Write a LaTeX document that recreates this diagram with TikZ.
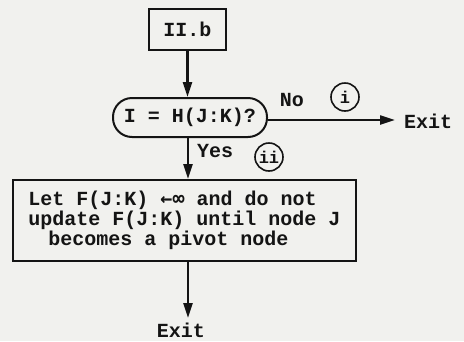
\documentclass[tikz,border=0pt]{standalone}
\usepackage{fontspec}
\setmonofont{Liberation Mono}
\newfontfamily\symfont{DejaVu Sans Mono}
\usetikzlibrary{arrows.meta}
\definecolor{paper}{RGB}{241,241,238}
\definecolor{ink}{RGB}{20,20,20}
\tikzset{
  every node/.style={font=\ttfamily\bfseries\fontsize{20}{20}\selectfont, text=ink},
  boxnode/.style={draw=ink, line width=2pt, inner sep=0pt},
  flow/.style={draw=ink, line width=2.2pt, -{Triangle[length=15pt,width=9pt]}},
  tag/.style={draw=ink, line width=1.6pt, circle, minimum size=28pt, inner sep=0pt,
    font=\ttfamily\bfseries\fontsize{17}{17}\selectfont},
  plain/.style={inner sep=0pt, anchor=west}
}
\begin{document}
\begin{tikzpicture}[x=1pt,y=-1pt]
\fill[paper] (0,0) rectangle (464,341);
\useasboundingbox (0,0) rectangle (464,341);

\node[boxnode, minimum width=77pt, minimum height=41pt] (iib) at (187.5,29.5) {II.b};
\node[boxnode, rounded corners=19pt, minimum width=154pt, minimum height=39pt] (cond) at (190,117.5) {I = H(J:K)?};
\node[boxnode, minimum width=343pt, minimum height=81pt, align=left] (act) at (184.5,220.5)
  {Let F(J:K) {\symfont ←∞} and do not\\update F(J:K) until node J\\\hspace*{20pt}becomes a pivot node};

\coordinate (exitR) at (395,120);
\coordinate (exitB) at (188,318);
\node[plain] (exitRtext) at (404,121) {Exit};
\node[inner sep=0pt] (exitBtext) at (181,330) {Exit};

\node (no) at (292,100) {No};
\node[tag] (ti) at (345,97) {i};
\node[plain] (yes) at (197,151) {Yes};
\node[tag] (tii) at (269,157) {ii};

\draw[flow] (iib.south) -- (iib.south |- cond.north);
\draw[flow] (cond.east |- exitR) -- (exitR);
\draw[flow] ([xshift=-2pt]cond.south) -- ([xshift=-2pt]cond.south |- act.north);
\draw[flow] (act.south -| exitB) -- (exitB);
\end{tikzpicture}
\end{document}
